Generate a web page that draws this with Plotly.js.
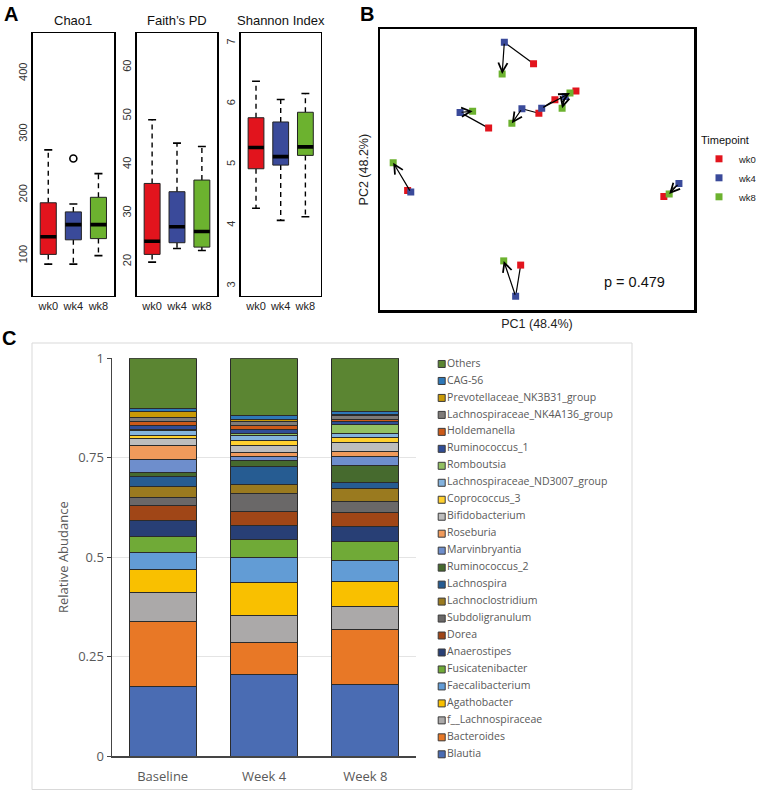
<!DOCTYPE html>
<html><head><meta charset="utf-8">
<script src="https://cdn.plot.ly/plotly-3.0.1.min.js"></script>
<style>html,body{margin:0;padding:0;background:#fff;}#chart{width:766px;height:791px;}</style>
</head><body><div id="chart"></div>
<script>
// ---------- Panel A: alpha diversity box statistics ----------
const timepoints = ['wk0', 'wk4', 'wk8'];

const chao1Lower  = [86, 86, 100];
const chao1Q1     = [102, 126, 128];
const chao1Median = [131, 151, 151];
const chao1Q3     = [187, 172, 196];
const chao1Upper  = [274, 185, 235];
const chao1OutlierTime  = ['wk4'];
const chao1OutlierValue = [260];

const faithLower  = [19.9, 22.7, 22.3];
const faithQ1     = [21.5, 23.9, 23.0];
const faithMedian = [24.2, 27.2, 26.2];
const faithQ3     = [36.1, 34.4, 36.8];
const faithUpper  = [49.2, 44.4, 43.7];

const shannonLower  = [4.28, 4.08, 4.14];
const shannonQ1     = [4.93, 4.99, 5.15];
const shannonMedian = [5.28, 5.13, 5.29];
const shannonQ3     = [5.77, 5.70, 5.86];
const shannonUpper  = [6.37, 6.07, 6.17];

// ---------- Panel B: PCoA coordinates (8 subjects) ----------
const pc1Wk0 = [-0.011, -0.154, -0.412, -0.052, 0.404, 0.006, 0.057, 0.124];
const pc2Wk0 = [0.377, 0.148, -0.074, -0.340, -0.096, 0.201, 0.249, 0.280];
const pc1Wk4 = [-0.104, -0.245, -0.402, -0.068, 0.452, -0.048, 0.015, 0.090];
const pc2Wk4 = [0.454, 0.204, -0.080, -0.451, -0.049, 0.217, 0.219, 0.261];
const pc1Wk8 = [-0.111, -0.205, -0.458, -0.106, 0.421, -0.080, 0.105, 0.080];
const pc2Wk8 = [0.341, 0.208, 0.025, -0.325, -0.087, 0.165, 0.273, 0.219];
const pValueText = 'p = 0.479';

// ---------- Panel C: relative abundance (bottom to top) ----------
const periods = ['Baseline', 'Week 4', 'Week 8'];
const genera = ['Blautia', 'Bacteroides', 'f__Lachnospiraceae', 'Agathobacter', 'Faecalibacterium',
  'Fusicatenibacter', 'Anaerostipes', 'Dorea', 'Subdoligranulum', 'Lachnoclostridium', 'Lachnospira',
  'Ruminococcus_2', 'Marvinbryantia', 'Roseburia', 'Bifidobacterium', 'Coprococcus_3',
  'Lachnospiraceae_ND3007_group', 'Romboutsia', 'Ruminococcus_1', 'Holdemanella',
  'Lachnospiraceae_NK4A136_group', 'Prevotellaceae_NK3B31_group', 'CAG-56', 'Others'];
const baseline = [0.174, 0.165, 0.071, 0.059, 0.043, 0.039, 0.040, 0.040, 0.019, 0.028, 0.024,
  0.012, 0.031, 0.035, 0.018, 0.009, 0.012, 0.003, 0.008, 0.012, 0.008, 0.016, 0.009, 0.125];
const week4 = [0.204, 0.081, 0.068, 0.082, 0.065, 0.045, 0.034, 0.035, 0.045, 0.024, 0.044,
  0.017, 0.010, 0.010, 0.017, 0.012, 0.013, 0.004, 0.012, 0.009, 0.010, 0.006, 0.010, 0.143];
const week8 = [0.181, 0.136, 0.060, 0.061, 0.054, 0.048, 0.038, 0.035, 0.028, 0.032, 0.014,
  0.044, 0.023, 0.012, 0.023, 0.011, 0.011, 0.022, 0.008, 0.005, 0.009, 0.004, 0.006, 0.135];

// ---------- Styles ----------
const tpColors = ['#E2141D', '#3A4A9A', '#6CB22F'];
const genusColors = ['#4A6CB3', '#E87826', '#ABA9A9', '#F9C000', '#629CD5', '#70AA37', '#283F75',
  '#A04617', '#6A6868', '#9A7A1F', '#265C92', '#466A2E', '#6E8ECC', '#F09A5B', '#BDBDBD', '#FFD02E',
  '#84B3DE', '#92C062', '#304D96', '#CC5A19', '#7E7B78', '#C99A07', '#2E78B8', '#5B8532'];
const rFont = 'Liberation Sans, Arial, Helvetica, sans-serif';
const cFont = 'Open Sans, sans-serif';
const W = 766, H = 791;
const px = v => v / W, py = v => 1 - v / H;

const traces = [];

function boxPanel(n, lower, q1, med, q3, upper) {
  const xa = n === 1 ? 'x' : 'x' + n, ya = n === 1 ? 'y' : 'y' + n;
  const hw = 0.32, sw = 0.16;
  const wx = [], wy = [], sx = [], sy = [], mx = [], my = [];
  timepoints.forEach((t, i) => {
    const c = i + 1;
    wx.push(c, c, null, c, c, null); wy.push(q3[i], upper[i], null, q1[i], lower[i], null);
    sx.push(c - sw, c + sw, null, c - sw, c + sw, null); sy.push(upper[i], upper[i], null, lower[i], lower[i], null);
    mx.push(c - hw, c + hw, null); my.push(med[i], med[i], null);
  });
  traces.push({type: 'scatter', mode: 'lines', x: wx, y: wy, xaxis: xa, yaxis: ya, showlegend: false,
    hoverinfo: 'skip', line: {color: '#000', width: 1.4, dash: '5px,4px'}});
  traces.push({type: 'scatter', mode: 'lines', x: sx, y: sy, xaxis: xa, yaxis: ya, showlegend: false,
    hoverinfo: 'skip', line: {color: '#000', width: 1.6}});
  timepoints.forEach((t, i) => {
    const c = i + 1;
    traces.push({type: 'scatter', mode: 'lines', x: [c - hw, c + hw, c + hw, c - hw, c - hw],
      y: [q1[i], q1[i], q3[i], q3[i], q1[i]], fill: 'toself', fillcolor: tpColors[i],
      xaxis: xa, yaxis: ya, showlegend: false, hoverinfo: 'skip', line: {color: '#222', width: 1}});
  });
  traces.push({type: 'scatter', mode: 'lines', x: mx, y: my, xaxis: xa, yaxis: ya, showlegend: false,
    hoverinfo: 'skip', line: {color: '#000', width: 3.6}});
}
boxPanel(1, chao1Lower, chao1Q1, chao1Median, chao1Q3, chao1Upper);
boxPanel(2, faithLower, faithQ1, faithMedian, faithQ3, faithUpper);
boxPanel(3, shannonLower, shannonQ1, shannonMedian, shannonQ3, shannonUpper);
traces.push({type: 'scatter', mode: 'markers', x: chao1OutlierTime.map(t => timepoints.indexOf(t) + 1),
  y: chao1OutlierValue, xaxis: 'x', yaxis: 'y', showlegend: false, hoverinfo: 'skip',
  marker: {symbol: 'circle-open', size: 7, color: '#000', line: {width: 1.6}}});

// Panel B: wk0 -> wk4 segments
const segX = [], segY = [];
pc1Wk0.forEach((v, i) => { segX.push(pc1Wk0[i], pc1Wk4[i], null); segY.push(pc2Wk0[i], pc2Wk4[i], null); });
traces.push({type: 'scatter', mode: 'lines', x: segX, y: segY, xaxis: 'x4', yaxis: 'y4', showlegend: false,
  hoverinfo: 'skip', line: {color: '#000', width: 1.2}});
[[pc1Wk0, pc2Wk0], [pc1Wk4, pc2Wk4], [pc1Wk8, pc2Wk8]].forEach((d, i) => {
  traces.push({type: 'scatter', mode: 'markers', name: timepoints[i], x: d[0], y: d[1],
    xaxis: 'x4', yaxis: 'y4', legend: 'legend',
    marker: {symbol: 'square', size: 7, color: tpColors[i]}});
});

// Panel C: stacked bars
genera.forEach((g, i) => {
  traces.push({type: 'bar', name: g, x: periods, y: [baseline[i], week4[i], week8[i]],
    xaxis: 'x5', yaxis: 'y5', showlegend: false,
    marker: {color: genusColors[i], line: {color: '#2b2b2b', width: 1}}});
});
// Panel C legend (one row per genus)
traces.push({type: 'scatter', mode: 'markers+text', x: genera.map(() => 4.7), y: genera.map((g, i) => i),
  text: genera, textposition: 'middle right', cliponaxis: false, xaxis: 'x6', yaxis: 'y6',
  showlegend: false, hoverinfo: 'skip',
  textfont: {family: cFont, size: 10.5, color: '#595959'},
  marker: {symbol: 'square', size: 7, color: genusColors, line: {color: '#3a3a3a', width: 1}}});

function boxX(d0, d1, anchor) {
  return {domain: [px(d0), px(d1)], anchor: anchor, range: [0.38, 3.62], tickvals: [1, 2, 3], ticktext: timepoints,
    showline: true, mirror: true, linecolor: '#000', linewidth: 1.5, ticks: '', showgrid: false, zeroline: false,
    tickfont: {family: rFont, size: 11, color: '#222'}};
}
function boxY(range, dtick, anchor) {
  return {domain: [py(295.7), py(33.3)], anchor: anchor, range: range, dtick: dtick, tickangle: -90,
    showline: true, mirror: true, linecolor: '#000', linewidth: 1.5, ticks: '', showgrid: false, zeroline: false,
    tickfont: {family: rFont, size: 11, color: '#333'}};
}

const annotations = [
  {text: '<b>A</b>', x: px(2), y: py(1), xref: 'paper', yref: 'paper', xanchor: 'left', yanchor: 'top', showarrow: false, font: {family: rFont, size: 20, color: '#000'}},
  {text: '<b>B</b>', x: px(358), y: py(1), xref: 'paper', yref: 'paper', xanchor: 'left', yanchor: 'top', showarrow: false, font: {family: rFont, size: 20, color: '#000'}},
  {text: '<b>C</b>', x: px(0), y: py(325), xref: 'paper', yref: 'paper', xanchor: 'left', yanchor: 'top', showarrow: false, font: {family: rFont, size: 20, color: '#000'}},
  {text: 'Chao1', xref: 'x domain', yref: 'y domain', x: 0.5, y: 1, xanchor: 'center', yanchor: 'bottom', yshift: 3, showarrow: false, font: {family: rFont, size: 13, color: '#111'}},
  {text: 'Faith\u2019s PD', xref: 'x2 domain', yref: 'y2 domain', x: 0.5, y: 1, xanchor: 'center', yanchor: 'bottom', yshift: 3, showarrow: false, font: {family: rFont, size: 13, color: '#111'}},
  {text: 'Shannon Index', xref: 'x3 domain', yref: 'y3 domain', x: 0.5, y: 1, xanchor: 'center', yanchor: 'bottom', yshift: 3, showarrow: false, font: {family: rFont, size: 13, color: '#111'}},
  {text: pValueText, xref: 'x4 domain', yref: 'y4 domain', x: 0.811, y: 0.1, xanchor: 'center', yanchor: 'middle', showarrow: false, font: {family: rFont, size: 14.5, color: '#111'}}
];
pc1Wk4.forEach((v, i) => {
  annotations.push({x: pc1Wk8[i], y: pc2Wk8[i], ax: pc1Wk4[i], ay: pc2Wk4[i], xref: 'x4', yref: 'y4',
    axref: 'x4', ayref: 'y4', text: '', showarrow: true, arrowhead: 5, arrowsize: 1.5, arrowwidth: 1.2,
    arrowcolor: '#000', standoff: 0, startstandoff: 0});
});

const layout = {
  width: W, height: H, margin: {l: 0, r: 0, t: 0, b: 0}, paper_bgcolor: '#fff', plot_bgcolor: 'rgba(0,0,0,0)',
  showlegend: true, barmode: 'stack', bargap: 0.34,
  xaxis: boxX(32.7, 114, 'y'), yaxis: boxY([34, 466], 100, 'x'),
  xaxis2: boxX(136.7, 217.3, 'y2'), yaxis2: boxY([13, 67], 10, 'x2'),
  xaxis3: boxX(240.7, 320.7, 'y3'), yaxis3: boxY([2.84, 7.16], 1, 'x3'),
  xaxis4: {domain: [px(380), px(694)], anchor: 'y4', range: [-0.5, 0.5], showline: true, mirror: true,
    linecolor: '#000', linewidth: 2.5, showticklabels: false, ticks: '', showgrid: false, zeroline: false,
    title: {text: 'PC1 (48.4%)', font: {family: rFont, size: 12.5, color: '#222'}, standoff: 8}},
  yaxis4: {domain: [py(310), py(29.3)], anchor: 'x4', range: [-0.5, 0.5], showline: true, mirror: true,
    linecolor: '#000', linewidth: 2.5, showticklabels: false, ticks: '', showgrid: false, zeroline: false,
    title: {text: 'PC2 (48.2%)', font: {family: rFont, size: 12.5, color: '#222'}, standoff: 6}},
  xaxis5: {domain: [px(112), px(416)], anchor: 'y5', type: 'category', categoryorder: 'array', categoryarray: periods,
    showline: true, linecolor: '#454545', linewidth: 1.5, ticks: '', ticklabelstandoff: 8, showgrid: false,
    tickfont: {family: cFont, size: 13, color: '#595959'}},
  yaxis5: {domain: [py(756), py(358.3)], anchor: 'x5', range: [0, 1], tickvals: [0, 0.25, 0.5, 0.75, 1],
    ticktext: ['0', '0.25', '0.5', '0.75', '1'], showline: true, linecolor: '#454545', linewidth: 1.5,
    ticks: 'outside', ticklen: 4, tickcolor: '#454545', showgrid: true, gridcolor: '#E4E4E4', gridwidth: 1,
    zeroline: false, tickfont: {family: cFont, size: 13, color: '#595959'},
    title: {text: 'Relative Abudance', font: {family: cFont, size: 13, color: '#595959'}, standoff: 6}},
  xaxis6: {domain: [px(437), px(637)], anchor: 'y6', range: [0, 200], visible: false},
  yaxis6: {domain: [py(762.8), py(355.5)], anchor: 'x6', range: [-0.5, 23.5], visible: false},
  legend: {x: px(699), y: py(130), xanchor: 'left', yanchor: 'top', bgcolor: 'rgba(0,0,0,0)',
    traceorder: 'normal',
    title: {text: 'Timepoint', font: {family: rFont, size: 11, color: '#111'}},
    font: {family: rFont, size: 9.5, color: '#222'}},
  shapes: [{type: 'rect', xref: 'paper', yref: 'paper', x0: px(32), x1: px(632), y0: py(789.5), y1: py(343),
    line: {color: '#D9D9D9', width: 1}, fillcolor: 'rgba(0,0,0,0)', layer: 'below'}],
  annotations: annotations
};

Plotly.newPlot('chart', traces, layout, {staticPlot: true, displayModeBar: false});
</script></body></html>
